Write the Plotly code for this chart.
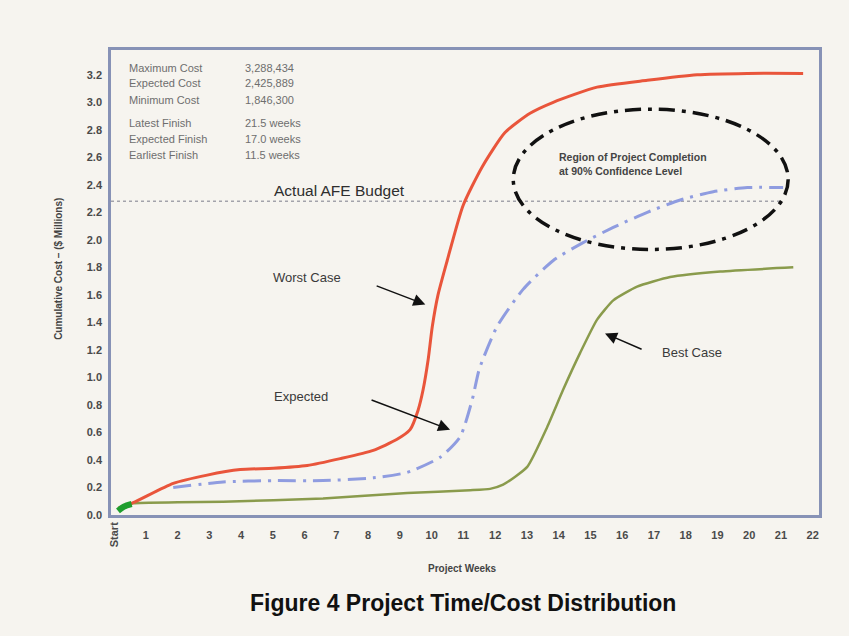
import plotly.graph_objects as go

# ---------------- data ----------------
worst_weeks = [0.13, 0.60, 1.86, 2.93, 3.97, 5.01, 6.08, 7.12, 8.16, 8.91, 9.32, 9.57, 9.73,
               9.89, 10.02, 10.20, 10.49, 10.99, 11.59, 12.31, 13.10, 13.83, 15.21, 16.79,
               18.36, 19.94, 21.70]
worst_cost = [0.05, 0.09, 0.23, 0.29, 0.33, 0.34, 0.36, 0.41, 0.47, 0.55, 0.62, 0.76, 0.91,
              1.13, 1.37, 1.60, 1.85, 2.25, 2.53, 2.78, 2.92, 3.00, 3.11, 3.16,
              3.20, 3.21, 3.21]

expected_weeks = [1.86, 3.43, 5.01, 6.58, 8.16, 9.23, 10.27, 10.90, 11.28, 11.50,
                  12.06, 12.88, 13.83, 14.77, 15.72, 16.79, 17.83, 18.87, 19.94, 21.07]
expected_cost = [0.20, 0.24, 0.25, 0.25, 0.27, 0.31, 0.42, 0.57, 0.84, 1.06,
                 1.37, 1.64, 1.85, 1.98, 2.09, 2.20, 2.29, 2.35, 2.38, 2.38]

best_weeks = [0.13, 0.60, 2.00, 3.43, 6.58, 9.23, 11.21, 11.84, 12.25, 13.01, 13.64, 14.14,
              14.68, 15.21, 15.72, 16.47, 17.51, 19.09, 21.39]
best_cost = [0.04, 0.085, 0.092, 0.097, 0.12, 0.16, 0.18, 0.19, 0.22, 0.35, 0.64, 0.91,
             1.18, 1.42, 1.56, 1.66, 1.73, 1.77, 1.80]

start_weeks = [0.12, 0.30, 0.55]
start_cost = [0.03, 0.06, 0.08]

afe_budget = 2.28
region_weeks = [12.57, 21.23]
region_cost = [1.93, 2.95]

y_ticks = [0.0, 0.2, 0.4, 0.6, 0.8, 1.0, 1.2, 1.4, 1.6, 1.8, 2.0, 2.2, 2.4, 2.6, 2.8, 3.0, 3.2]
x_ticks = list(range(1, 23))

stats_labels = ["Maximum Cost", "Expected Cost", "Minimum Cost",
                "Latest Finish", "Expected Finish", "Earliest Finish"]
stats_values = ["3,288,434", "2,425,889", "1,846,300",
                "21.5 weeks", "17.0 weeks", "11.5 weeks"]

# ---------------- figure ----------------
BG = "#f6f4ef"
FONT = "Liberation Sans, Arial, sans-serif"

fig = go.Figure()

fig.add_trace(go.Scatter(x=expected_weeks, y=expected_cost, mode="lines",
                         line=dict(color="#8f9ce0", width=3, dash="18px,7px,3px,7px",
                                   shape="spline", smoothing=0.6),
                         hoverinfo="skip"))
fig.add_trace(go.Scatter(x=best_weeks, y=best_cost, mode="lines",
                         line=dict(color="#8a9b4c", width=2.5, shape="spline", smoothing=0.5),
                         hoverinfo="skip"))
fig.add_trace(go.Scatter(x=worst_weeks, y=worst_cost, mode="lines",
                         line=dict(color="#e9553b", width=3, shape="spline", smoothing=0.6),
                         hoverinfo="skip"))
fig.add_trace(go.Scatter(x=start_weeks, y=start_cost, mode="lines",
                         line=dict(color="#1e9e2e", width=6, shape="spline"),
                         hoverinfo="skip"))

shapes = [
    dict(type="line", xref="x", yref="y", x0=-0.1, x1=21.0, y0=afe_budget, y1=afe_budget,
         line=dict(color="#a3a3ab", width=1.5, dash="dot"), layer="below"),
    dict(type="circle", xref="x", yref="y", x0=region_weeks[0], x1=region_weeks[1],
         y0=region_cost[0], y1=region_cost[1],
         line=dict(color="#111111", width=3.5, dash="16px,7px,4px,7px")),
]

ann = []
label_font = dict(family=FONT, size=13, color="#3a3a3a")
ann.append(dict(x=7.09, y=2.36, xref="x", yref="y", text="Actual AFE Budget",
                showarrow=False, font=dict(family=FONT, size=15.5, color="#2e2e2e")))
ann.append(dict(x=6.08, y=1.73, xref="x", yref="y", text="Worst Case",
                showarrow=False, font=label_font))
ann.append(dict(x=5.89, y=0.86, xref="x", yref="y", text="Expected",
                showarrow=False, font=label_font))
ann.append(dict(x=18.2, y=1.18, xref="x", yref="y", text="Best Case",
                showarrow=False, font=label_font))
ann.append(dict(x=13.95, y=2.55, xref="x", yref="y",
                text="<b>Region of Project Completion<br>at 90% Confidence Level</b>",
                xanchor="left", align="left", showarrow=False,
                font=dict(family=FONT, size=10.5, color="#444444")))

arrow = dict(showarrow=True, arrowhead=2, arrowsize=1.6, arrowwidth=1.5,
             arrowcolor="#111111", axref="x", ayref="y", xref="x", yref="y", text="")
ann.append(dict(arrow, x=9.8, y=1.53, ax=8.22, ay=1.67))
ann.append(dict(arrow, x=10.58, y=0.62, ax=8.06, ay=0.84))
ann.append(dict(arrow, x=15.46, y=1.32, ax=16.66, ay=1.20))

stat_y = [3.25, 3.14, 3.02, 2.85, 2.73, 2.62]
for lab, val, yy in zip(stats_labels, stats_values, stat_y):
    ann.append(dict(x=0.41, y=yy, xref="x", yref="y", text=lab, xanchor="left",
                    showarrow=False, font=dict(family=FONT, size=11, color="#6e6e6e")))
    ann.append(dict(x=4.06, y=yy, xref="x", yref="y", text=val, xanchor="left",
                    showarrow=False, font=dict(family=FONT, size=11, color="#6e6e6e")))

# Start tick label (rotated), placed under the x=0 position
ann.append(dict(x=0, y=-0.012, xref="x", yref="paper", text="<b>Start</b>", textangle=-90,
                yanchor="top", showarrow=False,
                font=dict(family=FONT, size=11, color="#4a4a4a")))
# axis titles
ann.append(dict(x=-0.085, y=0.53, xref="paper", yref="paper",
                text="<b>Cumulative Cost – ($ Millions)</b>", textangle=-90,
                showarrow=False, font=dict(family=FONT, size=10, color="#444444")))
ann.append(dict(x=0.497, y=-0.098, xref="paper", yref="paper", yanchor="top",
                text="<b>Project Weeks</b>",
                showarrow=False, font=dict(family=FONT, size=10, color="#444444")))
ann.append(dict(x=0.497, y=-0.158, xref="paper", yref="paper", yanchor="top",
                text="<b>Figure 4 Project Time/Cost Distribution</b>",
                showarrow=False, font=dict(family=FONT, size=23, color="#111111")))

fig.update_layout(
    width=849, height=636,
    margin=dict(l=111, r=30, t=50, b=121),
    paper_bgcolor=BG, plot_bgcolor=BG,
    showlegend=False,
    shapes=shapes, annotations=ann,
    xaxis=dict(range=[-0.1, 22.2], tickvals=x_ticks, ticktext=[str(t) for t in x_ticks],
               showgrid=False, zeroline=False, showline=True, mirror=True,
               linecolor="#8792b6", linewidth=2.5, ticks="outside", ticklen=8,
               tickcolor="rgba(0,0,0,0)",
               tickfont=dict(family=FONT, size=11, color="#4a4a4a", weight="bold")),
    yaxis=dict(range=[0, 3.38], tickvals=y_ticks, ticktext=[f"{t:.1f}" for t in y_ticks],
               showgrid=False, zeroline=False, showline=True, mirror=True,
               linecolor="#8792b6", linewidth=2.5, ticks="outside", ticklen=4,
               tickcolor="rgba(0,0,0,0)",
               tickfont=dict(family=FONT, size=11, color="#4a4a4a", weight="bold")),
)

fig.write_html("out.html")
